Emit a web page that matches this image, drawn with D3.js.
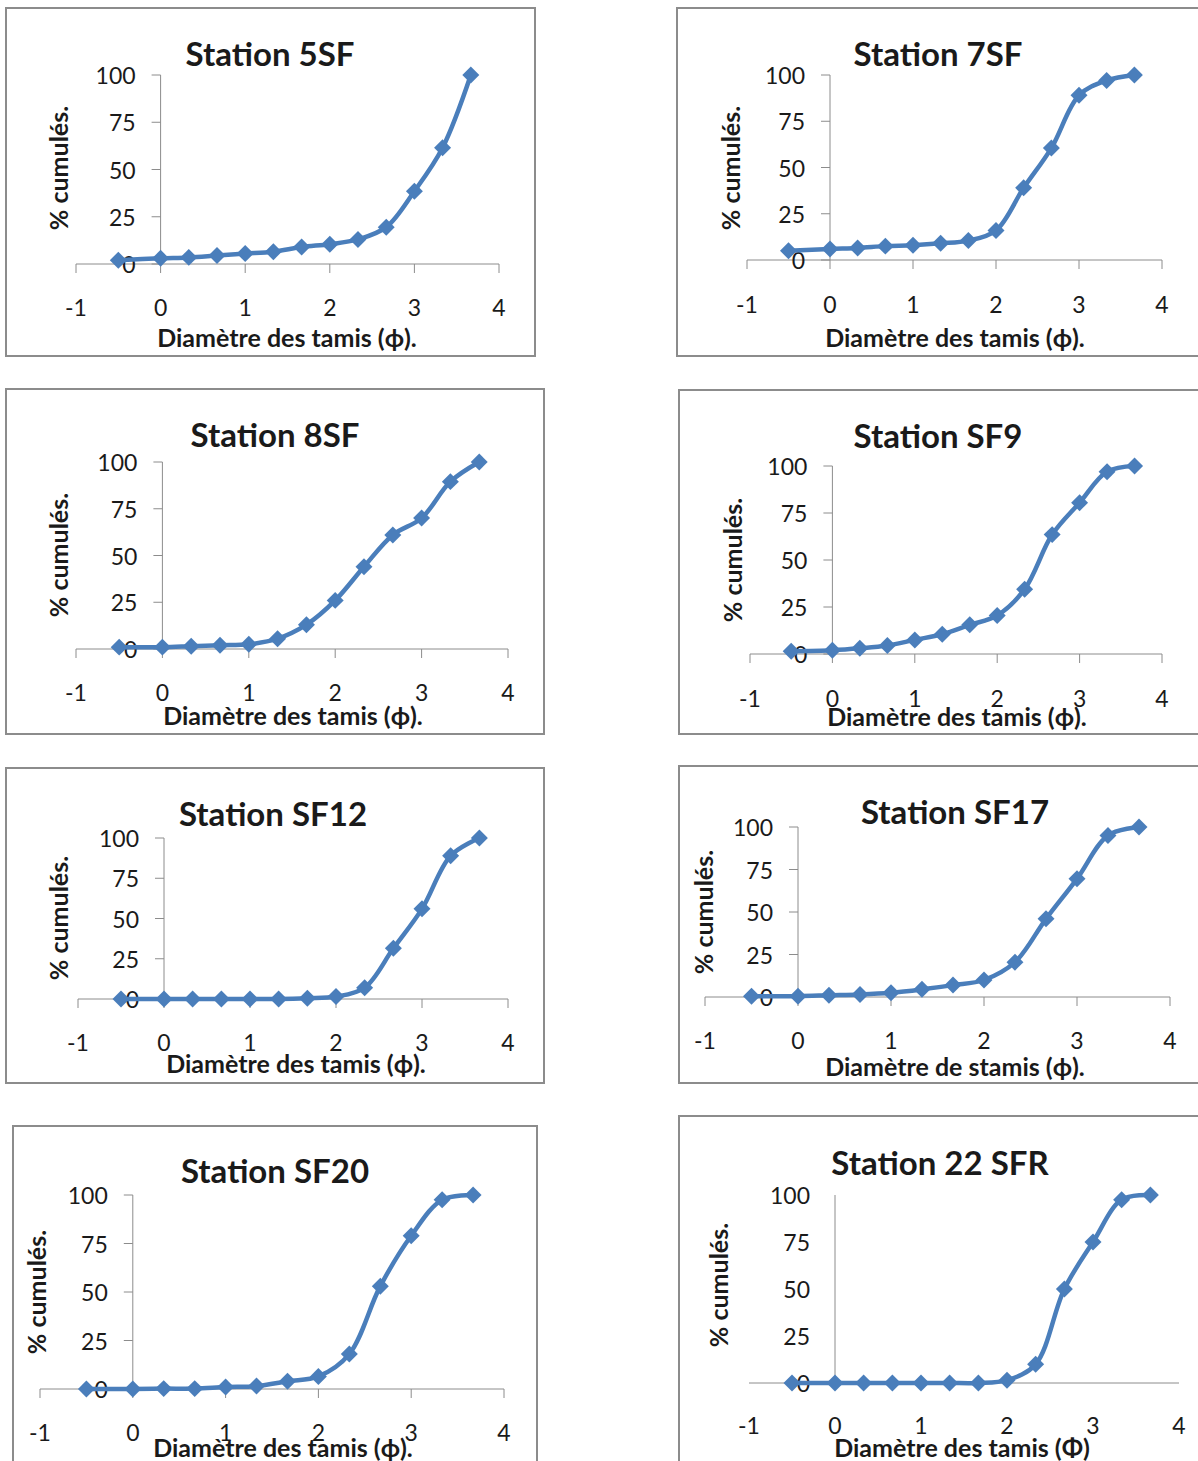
<!DOCTYPE html>
<html>
  <head>
    <meta charset="utf-8">
    <title>Courbes granulométriques cumulées</title>
    <script src="https://cdnjs.cloudflare.com/ajax/libs/d3/7.8.5/d3.min.js" charset="utf-8"></script>
    <style>
      body { margin: 0; background-color: #FFF; }
      svg { display: block; background-color: #FFF; }
      text { font-family: Lato, "Open Sans", sans-serif; fill: #1a1a1a; }
    </style>
  </head>
  <body>
    <svg width="1198" height="1461"></svg>
    <script>
      // diamètre des tamis (phi)
      var phi = [-0.5, 0, 0.333, 0.667, 1, 1.333, 1.667, 2, 2.333, 2.667, 3, 3.333, 3.667];

      var stations = ["Station 5SF", "Station 7SF", "Station 8SF", "Station SF9",
                      "Station SF12", "Station SF17", "Station SF20", "Station 22 SFR"];

      var xTitles = ["Diamètre des tamis (ϕ).", "Diamètre des tamis (ϕ).", "Diamètre des tamis (ϕ).",
                     "Diamètre des tamis (ϕ).", "Diamètre des tamis (ϕ).", "Diamètre de stamis (ϕ).",
                     "Diamètre des tamis (ϕ).", "Diamètre des tamis (Φ)"];
      var yTitle = "% cumulés.";

      // % cumulés par station
      var s5SF   = [2, 3, 3.5, 4.5, 5.5, 6.5, 9, 10.5, 13, 19.5, 38.5, 61.5, 100];
      var s7SF   = [5, 6, 6.5, 7.5, 8, 9, 10.5, 16, 39, 60.5, 89, 97, 100];
      var s8SF   = [1, 1, 1.5, 2, 2.5, 5.5, 13, 26, 44, 61, 70, 89.5, 100];
      var sSF9   = [1.5, 2, 3, 4.5, 7.5, 10.5, 15.5, 20.5, 34.5, 63.5, 80.5, 97, 100];
      var sSF12  = [0, 0, 0, 0, 0, 0, 0.5, 1.5, 7, 31.5, 56, 89, 100];
      var sSF17  = [0.5, 0.5, 1, 1.5, 2.5, 4.5, 7, 10, 20.5, 46, 69.5, 95, 100];
      var sSF20  = [0, 0, 0.2, 0.2, 1, 1.5, 4, 6.5, 18, 53, 79, 97.5, 100];
      var s22SFR = [0, 0, 0, 0, 0, 0, 0, 1.5, 10, 50, 75, 97.5, 100];

      var series = [s5SF, s7SF, s8SF, sSF9, sSF12, sSF17, sSF20, s22SFR];

      var xTicks = [-1, 0, 1, 2, 3, 4];
      var yTicks = [0, 25, 50, 75, 100];

      // placement de chaque graphique dans la page
      // frame: [x, y, w, h], x: px de -1 et 4, y: px de 0 et 100
      var layout = [
        {frame: [6, 8, 529, 348],     x: [76, 499],   y: [264, 75],    xlab: 307,  xt: [287, 337],  yt: [58, 168],  t: [270, 53],   ticks: true},
        {frame: [677, 8, 540, 348],   x: [747, 1162], y: [260, 75],    xlab: 304,  xt: [955, 337],  yt: [730, 168], t: [938, 53],   ticks: true},
        {frame: [6, 389, 538, 345],   x: [76, 508],   y: [649, 462],   xlab: 692,  xt: [293, 715],  yt: [58, 555],  t: [275, 434],  ticks: true},
        {frame: [679, 390, 540, 344], x: [750, 1162], y: [654, 466],   xlab: 698,  xt: [957, 716],  yt: [732, 560], t: [938, 435],  ticks: true},
        {frame: [6, 768, 538, 315],   x: [78, 508],   y: [999, 838],   xlab: 1042, xt: [296, 1063], yt: [58, 918],  t: [273, 813],  ticks: true},
        {frame: [679, 766, 540, 317], x: [705, 1170], y: [997, 827],   xlab: 1040, xt: [955, 1066], yt: [703, 912], t: [955, 811],  ticks: true},
        {frame: [13, 1126, 524, 360], x: [40, 504],   y: [1389, 1195], xlab: 1432, xt: [283, 1447], yt: [36, 1292], t: [275, 1170], ticks: true},
        {frame: [679, 1116, 540, 370], x: [749, 1179], y: [1383, 1195], xlab: 1425, xt: [962, 1447], yt: [718, 1285], t: [940, 1162], ticks: false}
      ];

      var blue = "#4a7ebb";
      var grey = "#8c8c8c";

      var svg = d3.select("svg");

      series.forEach(function(values, i) {
        var L = layout[i];
        var g = svg.append("g");

        g.append("rect")
          .attr("x", L.frame[0]).attr("y", L.frame[1])
          .attr("width", L.frame[2]).attr("height", L.frame[3])
          .attr("fill", "#FFF")
          .attr("stroke", grey)
          .attr("stroke-width", 2);

        var x = d3.scaleLinear().domain([-1, 4]).range(L.x);
        var y = d3.scaleLinear().domain([0, 100]).range(L.y);

        // axe x (croise à y = 0)
        g.append("line")
          .attr("x1", x(-1)).attr("x2", x(4))
          .attr("y1", y(0)).attr("y2", y(0))
          .attr("stroke", grey).attr("stroke-width", 1);

        // axe y (croise à x = 0)
        g.append("line")
          .attr("x1", x(0)).attr("x2", x(0))
          .attr("y1", y(0)).attr("y2", y(100))
          .attr("stroke", grey).attr("stroke-width", 1);

        if (L.ticks) {
          g.selectAll(".xtick").data(xTicks).enter().append("line")
            .attr("x1", function(d) { return x(d); })
            .attr("x2", function(d) { return x(d); })
            .attr("y1", y(0)).attr("y2", y(0) + 9)
            .attr("stroke", grey);
          g.selectAll(".ytick").data(yTicks).enter().append("line")
            .attr("x1", x(0) - 9).attr("x2", x(0))
            .attr("y1", function(d) { return y(d); })
            .attr("y2", function(d) { return y(d); })
            .attr("stroke", grey);
        }

        g.selectAll(".xlab").data(xTicks).enter().append("text")
          .attr("x", function(d) { return x(d); })
          .attr("y", L.xlab)
          .attr("text-anchor", "middle")
          .attr("dominant-baseline", "central")
          .style("font-size", "23px")
          .text(function(d) { return d; });

        g.selectAll(".ylab").data(yTicks).enter().append("text")
          .attr("x", x(0) - 25)
          .attr("y", function(d) { return y(d); })
          .attr("text-anchor", "end")
          .attr("dominant-baseline", "central")
          .style("font-size", "23px")
          .text(function(d) { return d; });

        // courbe
        var pts = values.map(function(v, k) { return [phi[k], v]; });
        var line = d3.line()
          .x(function(d) { return x(d[0]); })
          .y(function(d) { return y(d[1]); })
          .curve(d3.curveCatmullRom.alpha(0.5));

        g.append("path")
          .attr("d", line(pts))
          .attr("fill", "none")
          .attr("stroke", blue)
          .attr("stroke-width", 4.5);

        g.selectAll(".pt").data(pts).enter().append("path")
          .attr("d", d3.symbol().type(d3.symbolSquare).size(144))
          .attr("transform", function(d) { return "translate(" + x(d[0]) + "," + y(d[1]) + ") rotate(45)"; })
          .attr("fill", blue);

        g.append("text")
          .attr("x", L.t[0]).attr("y", L.t[1])
          .attr("text-anchor", "middle")
          .attr("dominant-baseline", "central")
          .style("font-size", "33px").style("font-weight", "bold")
          .text(stations[i]);

        g.append("text")
          .attr("x", L.xt[0]).attr("y", L.xt[1])
          .attr("text-anchor", "middle")
          .attr("dominant-baseline", "central")
          .style("font-size", "25px").style("font-weight", "bold")
          .text(xTitles[i]);

        g.append("text")
          .attr("transform", "translate(" + L.yt[0] + "," + L.yt[1] + ") rotate(-90)")
          .attr("text-anchor", "middle")
          .attr("dominant-baseline", "central")
          .style("font-size", "25px").style("font-weight", "bold")
          .text(yTitle);
      });
    </script>
  </body>
</html>
